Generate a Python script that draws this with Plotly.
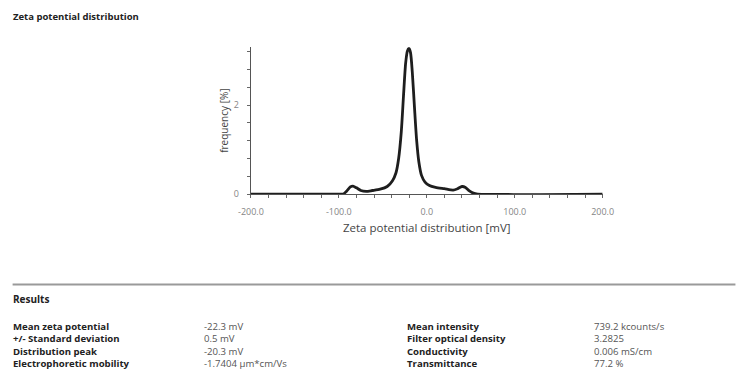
import plotly.graph_objects as go

# Zeta potential distribution curve (mV vs frequency %)
zeta_mv = [-200, -100, -95, -91, -87, -84, -80, -75, -69, -62, -53, -45, -39, -35,
           -32, -29, -26.5, -24, -22, -20.3, -18.5, -16.5, -14, -11.5, -9, -6,
           -2, 3, 10, 20, 30, 35, 40, 44, 48, 53, 58, 200]
freq_pct = [0, 0, 0.0, 0.07, 0.16, 0.18, 0.14, 0.08, 0.06, 0.08, 0.11, 0.17, 0.3,
            0.48, 0.8, 1.4, 2.2, 2.95, 3.22, 3.28, 3.18, 2.75, 1.95, 1.2, 0.72,
            0.42, 0.27, 0.19, 0.15, 0.12, 0.09, 0.12, 0.17, 0.15, 0.08, 0.02, 0, 0]

x_tick_vals = [-200, -100, 0, 100, 200]
x_tick_text = ["-200.0", "-100.0", "0.0", "100.0", "200.0"]
y_tick_vals = [0, 2]
y_tick_text = ["0", "2"]

# Results table
left_labels = ["Mean zeta potential", "+/- Standard deviation",
               "Distribution peak", "Electrophoretic mobility"]
left_values = ["-22.3 mV", "0.5 mV", "-20.3 mV", "-1.7404 µm*cm/Vs"]
right_labels = ["Mean intensity", "Filter optical density",
                "Conductivity", "Transmittance"]
right_values = ["739.2 kcounts/s", "3.2825", "0.006 mS/cm", "77.2 %"]

W, H = 737, 376
FONT = "Open Sans"


def px(x):
    """Horizontal page position (pixels) -> paper fraction."""
    return ((x - 13.4) / 0.969) / W


def py(y):
    """Vertical page position (pixels from top) -> paper fraction."""
    return 1 - ((y - 0.25) / 0.985) / H


X_DOMAIN = [px(251.7), px(604)]
Y_DOMAIN = [py(194.5), py(47.6)]
X_RANGE = [-200, 200]
Y_RANGE = [0, 3.3]

fig = go.Figure()
fig.add_trace(go.Scatter(
    x=zeta_mv, y=freq_pct, mode="lines",
    line=dict(color="#1e1e1e", width=2.8, shape="spline", smoothing=0.7),
    hoverinfo="skip", showlegend=False,
))

axis_common = dict(
    showgrid=False, zeroline=False, showline=True,
    linecolor="#555555", linewidth=1.4,
    ticks="outside", ticklen=3, tickwidth=1, tickcolor="#666666",
    tickfont=dict(family=FONT, size=9, color="#858585"),
)

# Companion axes carrying inward ticks, so tick marks cross the axis lines
inner_common = dict(
    showgrid=False, zeroline=False, showline=False, showticklabels=False,
    ticks="inside", ticklen=2, tickwidth=1, tickcolor="#666666",
)

fig.update_layout(
    width=W, height=H,
    margin=dict(l=0, r=0, t=0, b=0),
    paper_bgcolor="white", plot_bgcolor="white",
    font=dict(family=FONT),
    xaxis=dict(
        **axis_common,
        domain=X_DOMAIN, range=X_RANGE,
        tickvals=x_tick_vals, ticktext=x_tick_text,
        ticklabelstandoff=6,
        minor=dict(dtick=20, ticks="outside", ticklen=3, tickcolor="#666666"),
        title=dict(text="Zeta potential distribution [mV]", standoff=6,
                   font=dict(family=FONT, size=11.5, color="#444444")),
    ),
    yaxis=dict(
        **axis_common,
        domain=Y_DOMAIN, range=Y_RANGE,
        tickvals=y_tick_vals, ticktext=y_tick_text,
        ticklabelstandoff=6,
        minor=dict(dtick=0.4, ticks="outside", ticklen=3, tickcolor="#666666"),
        title=dict(text="frequency [%]", standoff=3,
                   font=dict(family=FONT, size=10, color="#444444")),
    ),
    xaxis2=dict(
        **inner_common, overlaying="x", anchor="y", side="bottom",
        range=X_RANGE, tickvals=x_tick_vals,
        minor=dict(dtick=20, ticks="inside", ticklen=2, tickcolor="#666666"),
    ),
    yaxis2=dict(
        **inner_common, overlaying="y", anchor="x", side="left",
        range=Y_RANGE, tickvals=y_tick_vals,
        minor=dict(dtick=0.4, ticks="inside", ticklen=2, tickcolor="#666666"),
    ),
)

annotations = [
    dict(text="<b>Zeta potential distribution</b>", x=px(12), y=py(17),
         yanchor="middle", font=dict(size=9.5, color="#222222")),
    dict(text="<b>Results</b>", x=px(12), y=py(300),
         yanchor="middle", font=dict(size=10, color="#222222")),
]

# Results block: one multi-line text per column
table_top = 320
columns = [
    ("<br>".join(f"<b>{t}</b>" for t in left_labels), 12, "#222222"),
    ("<br>".join(left_values), 204, "#555555"),
    ("<br>".join(f"<b>{t}</b>" for t in right_labels), 407, "#222222"),
    ("<br>".join(right_values), 594, "#555555"),
]
for text, x0, color in columns:
    annotations.append(dict(text=text, x=px(x0), y=py(table_top), yanchor="top",
                            align="left", font=dict(size=9.6, color=color)))

for a in annotations:
    a.update(xref="paper", yref="paper", xanchor="left", showarrow=False,
             borderpad=0)
    a["font"]["family"] = FONT
fig.update_layout(annotations=annotations)

# Separator rule above the results block
fig.add_shape(type="line", xref="paper", yref="paper",
              x0=px(13), x1=px(737), y0=py(285), y1=py(285),
              line=dict(color="#9a9a9a", width=2))

fig.write_html("out.html")
